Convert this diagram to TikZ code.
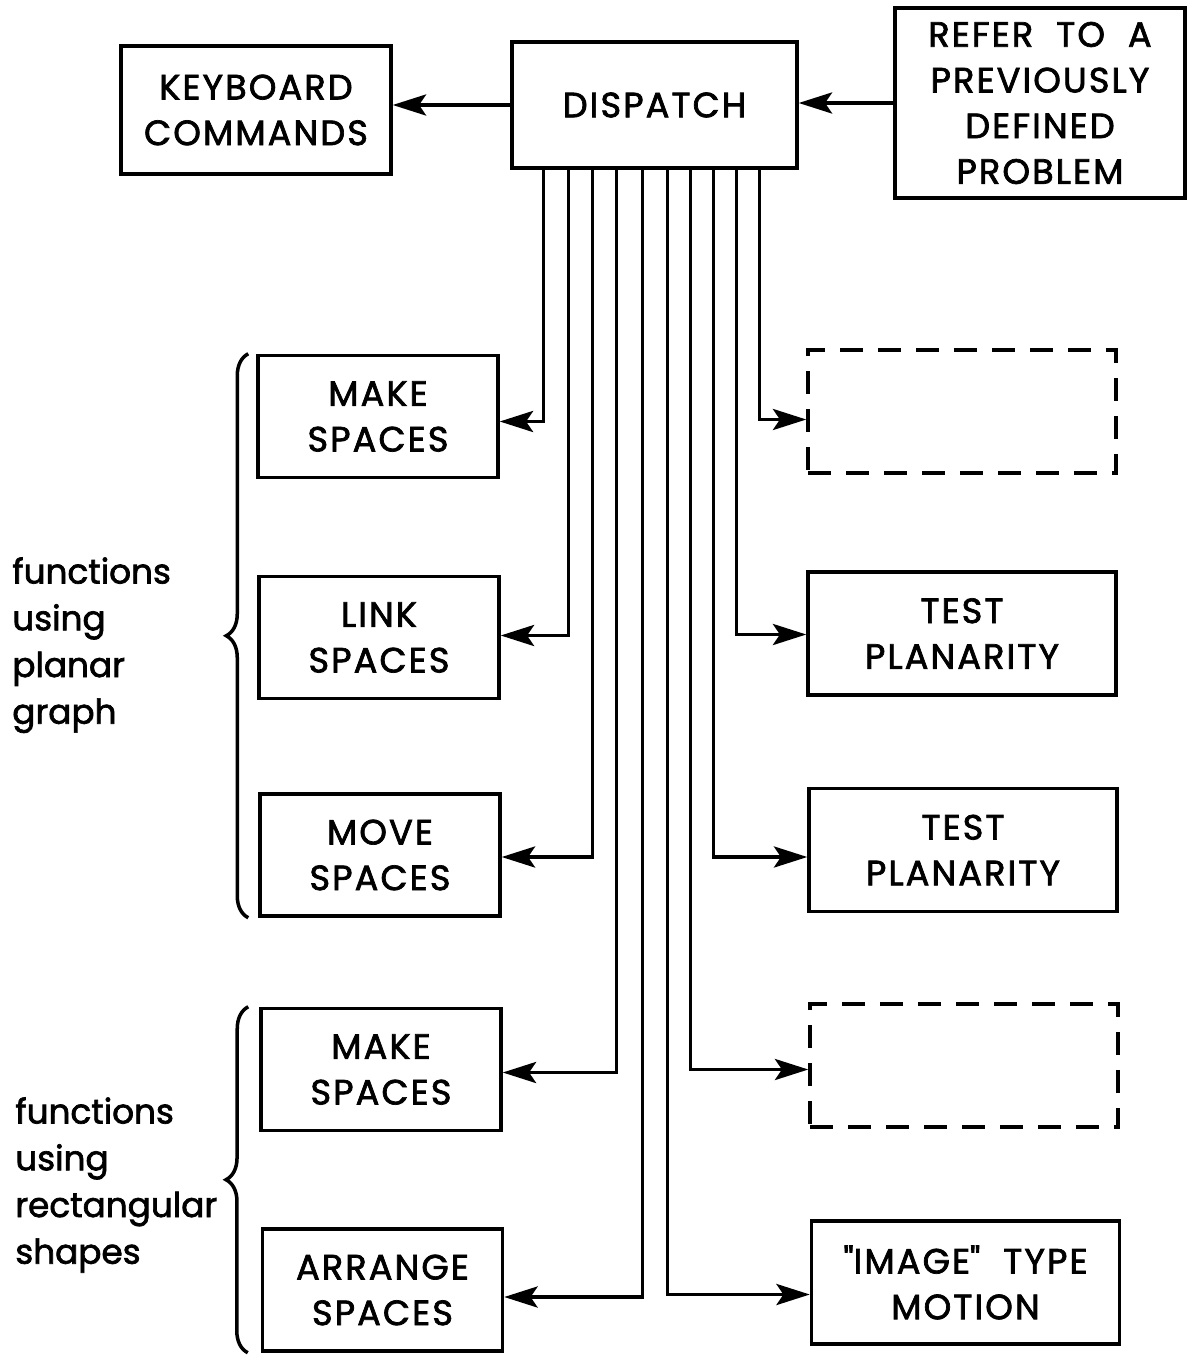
\documentclass[tikz,border=0pt]{standalone}
\usepackage{fontspec}
\setmainfont{Poppins}[FakeBold=2]
\usetikzlibrary{positioning,arrows.meta,calc,decorations.pathreplacing}
\tikzset{
  blk/.style={draw, line width=2pt, align=center, inner sep=0pt,
    font=\fontsize{20}{26}\selectfont\addfontfeatures{LetterSpace=6}},
  lft/.style={blk, minimum width=4.8cm, minimum height=2.44cm},
  rgt/.style={blk, minimum width=6.16cm, minimum height=2.46cm},
  dashed blk/.style={rgt, dash pattern=on 0.46cm off 0.3cm},
  feed/.style={line width=2pt, -{Stealth[length=19pt,width=12pt,inset=4pt]}},
  grp/.style={font=\fontsize{19.5}{26.6}\selectfont, align=left,
    inner sep=0pt, anchor=north west},
  curly/.style={line width=2pt, decorate,
    decoration={brace, amplitude=0.44cm}},
}

\begin{document}
\begin{tikzpicture}[x=0.02cm, y=-0.02cm]
\useasboundingbox (0,0) rectangle (1190,1355);

% ------------------------------------------------- top row
\node[blk, minimum width=5.7cm, minimum height=2.52cm] (disp) at (654.5,105) {DISPATCH};
\node[blk, minimum width=5.4cm, minimum height=2.56cm] (kbd) at (256,110)
  {KEYBOARD\\COMMANDS};
\node[blk, minimum width=5.8cm, minimum height=3.8cm] (refer) at (1040,103)
  {REFER\ \ TO\ \ A\\PREVIOUSLY\\DEFINED\\PROBLEM};
\draw[feed] (disp.west) -- (kbd.east |- disp.west);
\draw[feed] (refer.west) -- (refer.west -| disp.east);

% ------------------------------------------------- left column
\node[lft] (mka) at (378,416.5) {MAKE\\SPACES};
\node[lft] (lnk) at (379,637.5) {LINK\\SPACES};
\node[lft] (mov) at (380,855) {MOVE\\SPACES};
\node[lft] (mkb) at (381,1069.5) {MAKE\\SPACES};
\node[lft] (arng) at (382.5,1290) {ARRANGE\\SPACES};

% ------------------------------------------------- right column
\node[dashed blk] (dsa) at (962,411.5) {};
\node[rgt] (tpa) at (962,633.5) {TEST\\PLANARITY};
\node[rgt] (tpb) at (963,850) {TEST\\PLANARITY};
\node[dashed blk] (dsb) at (964,1065.5) {};
\node[rgt] (img) at (965.5,1282.5) {\textquotedbl IMAGE\textquotedbl\ \ TYPE\\MOTION};

% ------------------------------------------------- dispatch lines
\foreach \dx [count=\i] in {33,58,82,106,132,157,180,203,226,249}
  \coordinate (t\i) at ($(disp.south west)+(\dx,0)$);
\foreach \t/\b/\a/\dy in {1/mka/east/5, 2/lnk/east/-2, 3/mov/east/2,
    4/mkb/east/3, 5/arng/east/7, 6/img/west/12, 7/dsb/west/4,
    8/tpb/west/7, 9/tpa/west/1, 10/dsa/west/8}
  \draw[feed] (t\t) |- ($(\b.\a)+(0,\dy)$);

% ------------------------------------------------- groups
\draw[curly] ($(mov.south west)+(-10,0)$) -- ($(mka.north west)+(-8,0)$);
\draw[curly] ($(arng.south west)+(-13,0)$) -- ($(mkb.north west)+(-11,0)$);
\node[grp] (plan) at (12,557) {functions\\using\\planar\\graph};
\node[grp] (rect) at (15,1097) {functions\\using\\rectangular\\shapes};

\end{tikzpicture}
\end{document}
